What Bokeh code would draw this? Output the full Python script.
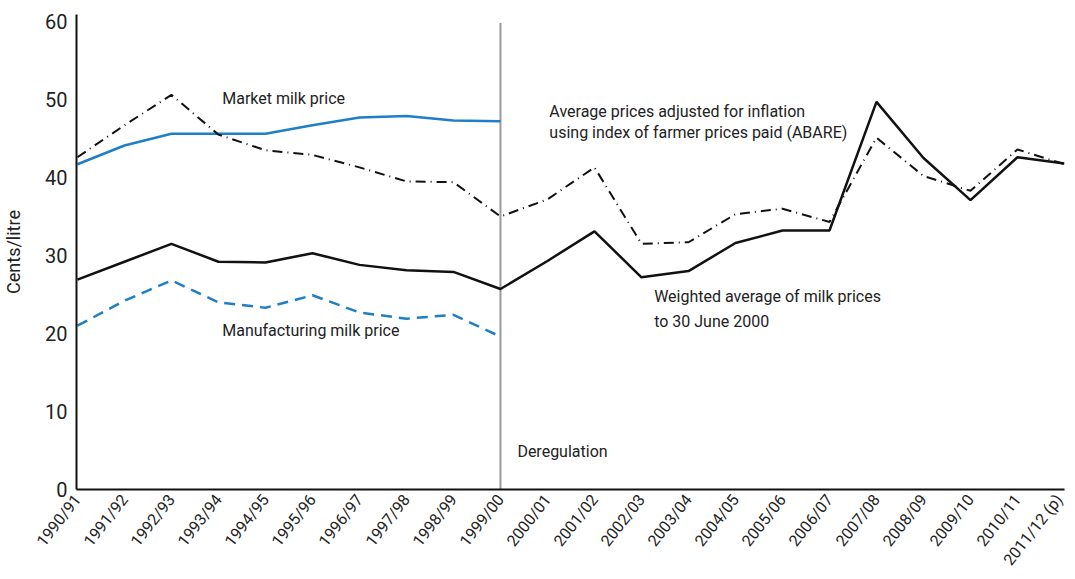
import math
from bokeh.plotting import figure
from bokeh.models import FixedTicker, Label
from bokeh.embed import file_html
from bokeh.resources import INLINE

years = ["1990/91", "1991/92", "1992/93", "1993/94", "1994/95", "1995/96", "1996/97",
         "1997/98", "1998/99", "1999/00", "2000/01", "2001/02", "2002/03", "2003/04",
         "2004/05", "2005/06", "2006/07", "2007/08", "2008/09", "2009/10", "2010/11",
         "2011/12 (p)"]

market_milk = [41.7, 44.1, 45.6, 45.6, 45.6, 46.7, 47.7, 47.9, 47.3, 47.2]
manufacturing_milk = [21.0, 24.2, 26.8, 24.0, 23.3, 24.9, 22.7, 21.9, 22.4, 19.6]
weighted_avg = [26.9, 29.2, 31.5, 29.2, 29.1, 30.3, 28.8, 28.1, 27.9, 25.7, 29.3, 33.1,
                27.2, 28.0, 31.6, 33.2, 33.2, 49.7, 42.5, 37.1, 42.6, 41.8]
inflation_adj = [42.6, 46.7, 50.6, 45.5, 43.5, 42.9, 41.3, 39.5, 39.4, 35.0, 37.2, 41.3,
                 31.5, 31.7, 35.3, 36.0, 34.3, 45.1, 40.2, 38.3, 43.6, 41.7]
y_ticks = [0, 10, 20, 30, 40, 50, 60]
dereg_year = "1999/00"

FONT = "Roboto"
BLUE = "#1f7fc6"

xs_all = list(range(len(years)))
xs_pre = xs_all[:len(market_milk)]

p = figure(width=1066, height=577, output_backend="svg", toolbar_location=None,
           x_range=(-0.02, 21.0), y_range=(0, 60.9),
           min_border_left=75, min_border_right=2, min_border_top=14, min_border_bottom=88)
p.background_fill_color = "white"
p.border_fill_color = "white"
p.outline_line_color = None
p.grid.grid_line_color = None

p.xaxis.ticker = FixedTicker(ticks=xs_all)
p.xaxis.major_label_overrides = {i: y for i, y in enumerate(years)}
p.xaxis.major_label_orientation = math.radians(52)
p.xaxis.major_label_text_font = FONT
p.xaxis.major_label_text_font_size = "16px"
p.xaxis.major_label_text_color = "#222222"
p.xaxis.major_label_standoff = 7

p.yaxis.ticker = FixedTicker(ticks=y_ticks)
p.yaxis.major_label_text_font = FONT
p.yaxis.major_label_text_font_size = "20px"
p.yaxis.major_label_text_color = "#222222"
p.yaxis.major_label_standoff = 9
p.yaxis.axis_label = "Cents/litre"
p.yaxis.axis_label_text_font = FONT
p.yaxis.axis_label_text_font_size = "18px"
p.yaxis.axis_label_text_font_style = "normal"
p.yaxis.axis_label_text_color = "#222222"
p.yaxis.axis_label_standoff = 18

for ax in (p.xaxis, p.yaxis):
    ax.axis_line_color = "#111111"
    ax.axis_line_width = 2
    ax.major_tick_line_color = None
    ax.minor_tick_line_color = None
    ax.major_tick_out = 0
    ax.major_tick_in = 0

xd = years.index(dereg_year)
p.segment(x0=[xd], y0=[0], x1=[xd], y1=[y_ticks[-1] - 0.2], line_color="#9a9a9a", line_width=2)

p.line(xs_pre, market_milk, line_color=BLUE, line_width=2.5)
p.line(xs_pre, manufacturing_milk, line_color=BLUE, line_width=2.5, line_dash="11 7")
p.line(xs_all, inflation_adj, line_color="#111111", line_width=2, line_dash="10 5 1 5")
p.line(xs_all, weighted_avg, line_color="#111111", line_width=2.5)

def label(x, y, txt):
    p.add_layout(Label(x=x, y=y, text=txt, text_font=FONT, text_font_size="16px",
                       text_color="#222222", text_baseline="middle", text_align="left"))

label(3.08, 50.1, "Market milk price")
label(10.04, 48.5, "Average prices adjusted for inflation")
label(10.04, 45.8, "using index of farmer prices paid (ABARE)")
label(12.27, 24.7, "Weighted average of milk prices")
label(12.27, 21.6, "to 30 June 2000")
label(3.08, 20.4, "Manufacturing milk price")
label(9.36, 4.9, "Deregulation")

open("out.html", "w").write(file_html(p, INLINE))
